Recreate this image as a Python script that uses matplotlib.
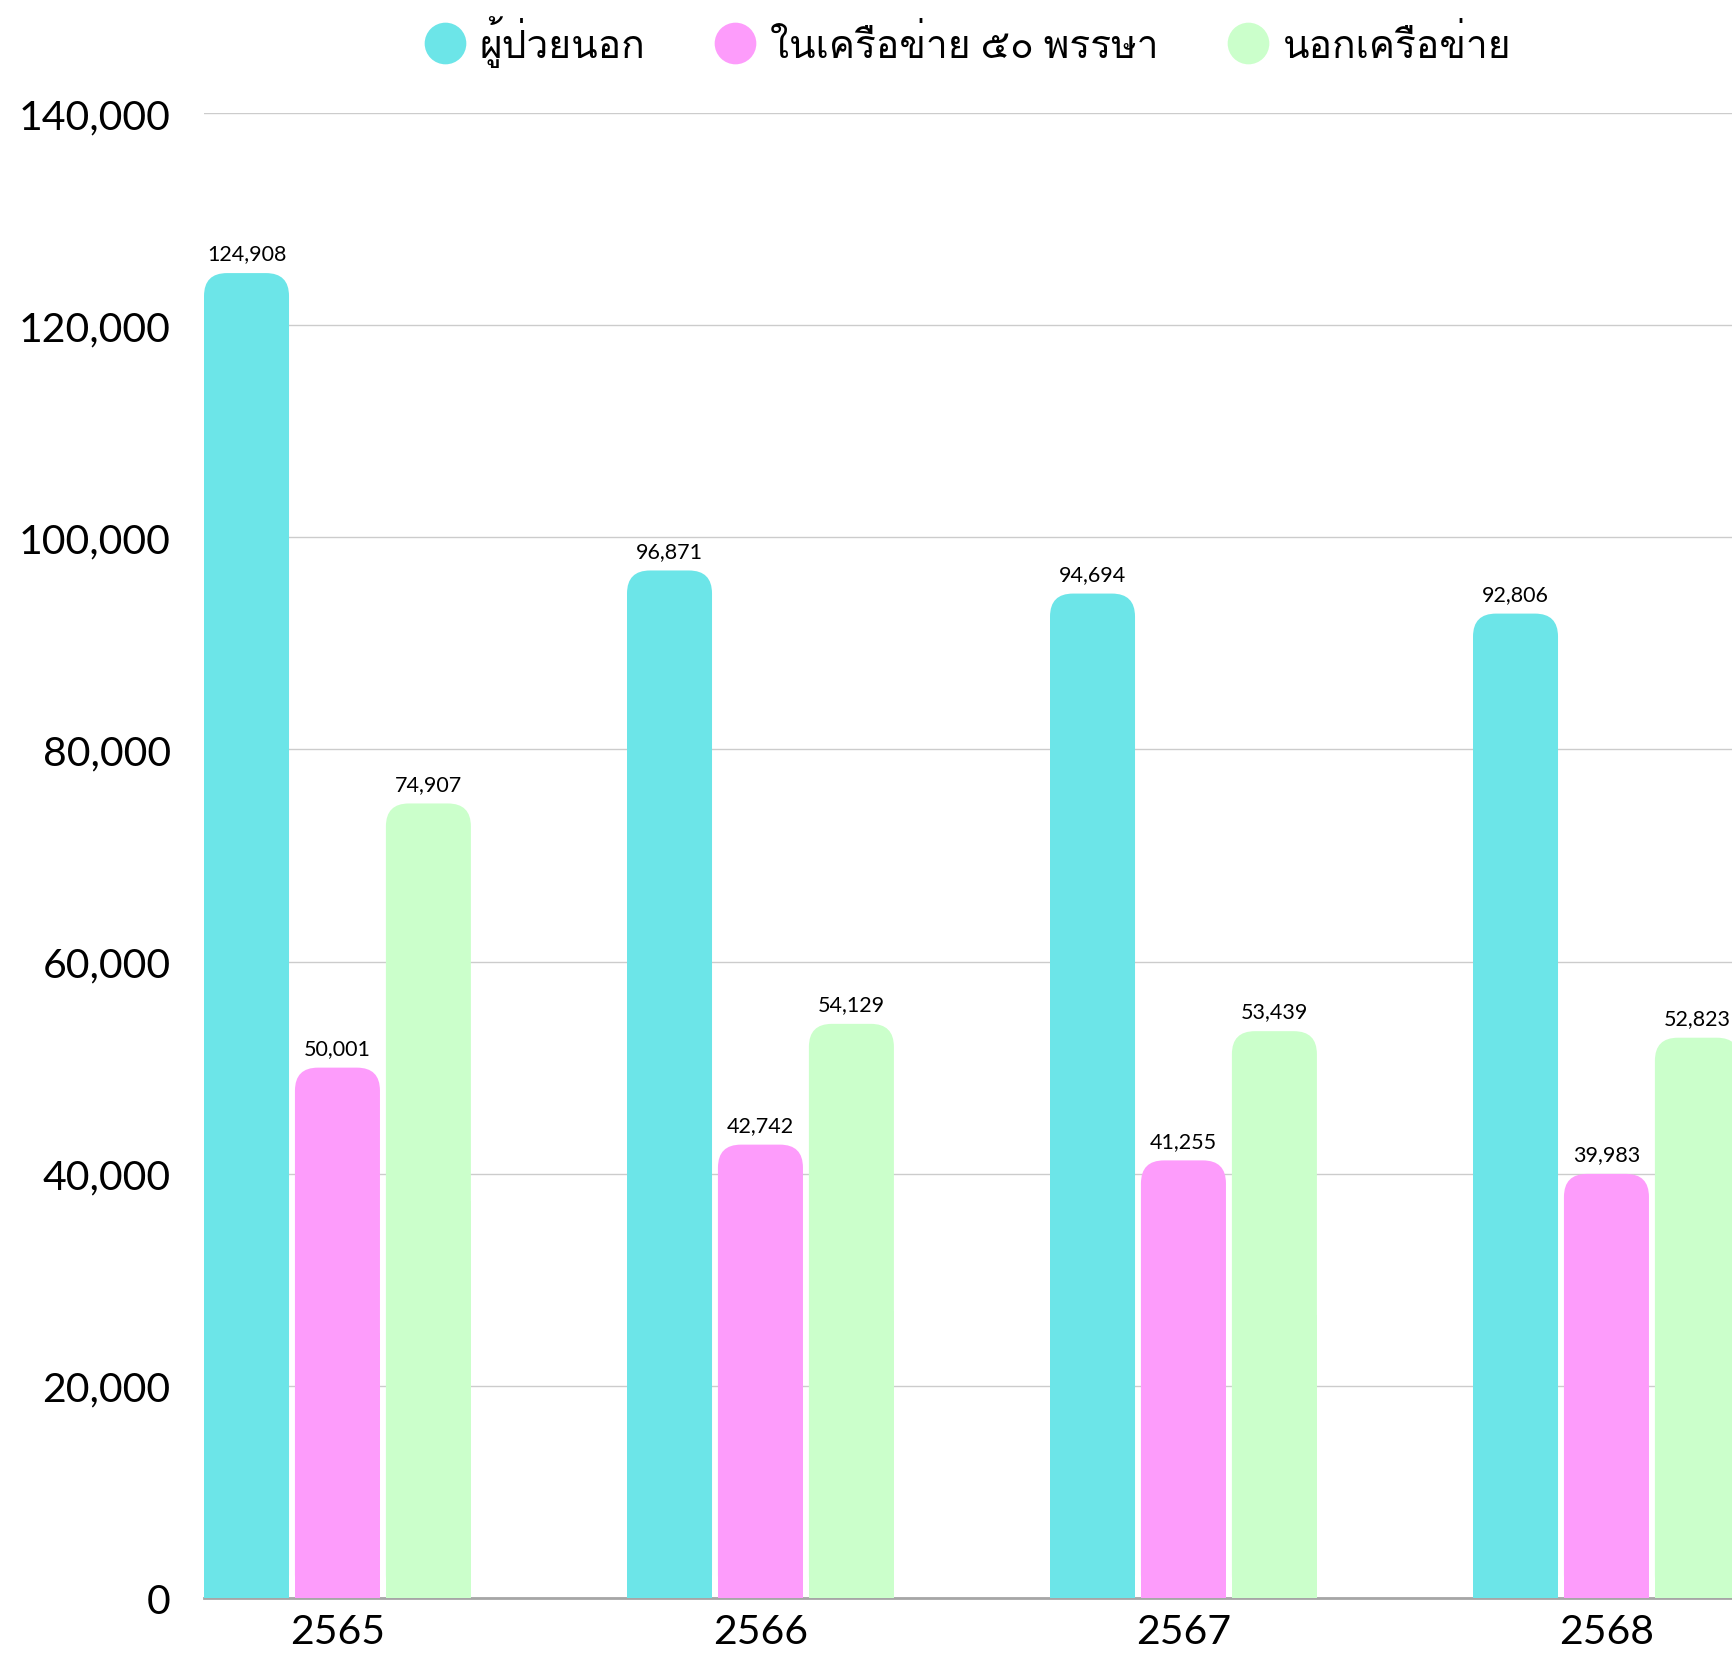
import matplotlib
matplotlib.use("Agg")
import matplotlib.pyplot as plt
from matplotlib import font_manager
from matplotlib.patches import FancyBboxPatch, Rectangle
from matplotlib.lines import Line2D
import numpy as np

# data
years = ["2565", "2566", "2567", "2568"]
series_names = ["ผู้ป่วยนอก", "ในเครือข่าย ๕๐ พรรษา", "นอกเครือข่าย"]
opd_total = [124908, 96871, 94694, 92806]
in_network = [50001, 42742, 41255, 39983]
out_network = [74907, 54129, 53439, 52823]
colors = ["#6ce5e8", "#fd9cfb", "#cbffcb"]


def find_thai_font():
    # pick any installed font that has Thai glyphs
    try:
        from fontTools.ttLib import TTFont
    except ImportError:
        return None
    for f in font_manager.fontManager.ttflist:
        try:
            tt = TTFont(f.fname, fontNumber=0, lazy=True)
            cmap = tt.getBestCmap()
            if cmap and 0x0E1C in cmap and 0x0E2D in cmap:
                return f.name
        except Exception:
            continue
    return None


thai = find_thai_font()
fams = ["Lato", "DejaVu Sans"]
if thai:
    fams = ["Lato", thai, "DejaVu Sans"]
plt.rcParams["font.family"] = fams

W, H = 1733, 1656
fig = plt.figure(figsize=(W / 100, H / 100), dpi=100)
ax = fig.add_axes([204 / W, 1 - 1599 / H, 1 - 204 / W, (1599 - 114) / H])

x = np.arange(len(years))
width = 0.201
step = 0.215
ax.set_xlim(-step - width / 2, -step - width / 2 + (W - 204) / 423)
ax.set_ylim(0, 140000)

# rounding radius in data units (about 23 px)
px_x = (ax.get_xlim()[1] - ax.get_xlim()[0]) / (W - 204)
px_y = 140000 / (1599 - 114)
rx = 23 * px_x
ry = 23 * px_y

all_series = [opd_total, in_network, out_network]
for i, (vals, c) in enumerate(zip(all_series, colors)):
    pos = x + (i - 1) * step
    bars = ax.bar(pos, vals, width, color=c, zorder=3)
    for b, v in zip(bars, vals):
        b.set_visible(False)
        x0, w = b.get_x(), b.get_width()
        ax.add_patch(FancyBboxPatch((x0, 0), w, v,
                                    boxstyle=f"round,pad=0,rounding_size={rx}",
                                    mutation_aspect=ry / rx, fc=c, ec="none",
                                    zorder=3))
        ax.add_patch(Rectangle((x0, 0), w, v / 2, fc=c, ec="none", zorder=3))
        ax.annotate(f"{v:,}", (x0 + w / 2, v), xytext=(0, 7),
                    textcoords="offset points", ha="center", va="bottom",
                    fontsize=15.5, color="black", zorder=4)

ax.set_yticks(np.arange(0, 140001, 20000))
ax.set_yticklabels([f"{t:,}" for t in range(0, 140001, 20000)])
ax.set_xticks(x)
ax.set_xticklabels(years)
ax.tick_params(axis="y", length=0, pad=24, labelsize=29.5)
ax.tick_params(axis="x", length=0, pad=11, labelsize=29.5)
ax.grid(axis="y", color="#cccccc", linewidth=1.0, zorder=0)
ax.set_axisbelow(True)
for s in ["top", "right", "left"]:
    ax.spines[s].set_visible(False)
ax.spines["bottom"].set_color("#a6a6a6")
ax.spines["bottom"].set_linewidth(2)
ax.spines["bottom"].set_zorder(2)

handles = [Line2D([], [], marker="o", linestyle="none", markersize=30,
                  markerfacecolor=c, markeredgecolor="none") for c in colors]
ax.legend(handles, series_names, loc="center", ncol=3, frameon=False,
          bbox_to_anchor=(0.5, 1 + (114 - 42) / (1599 - 114)),
          fontsize=28, handletextpad=0.4, columnspacing=1.8,
          handlelength=1.0)

fig.savefig("out.png", dpi=100)
